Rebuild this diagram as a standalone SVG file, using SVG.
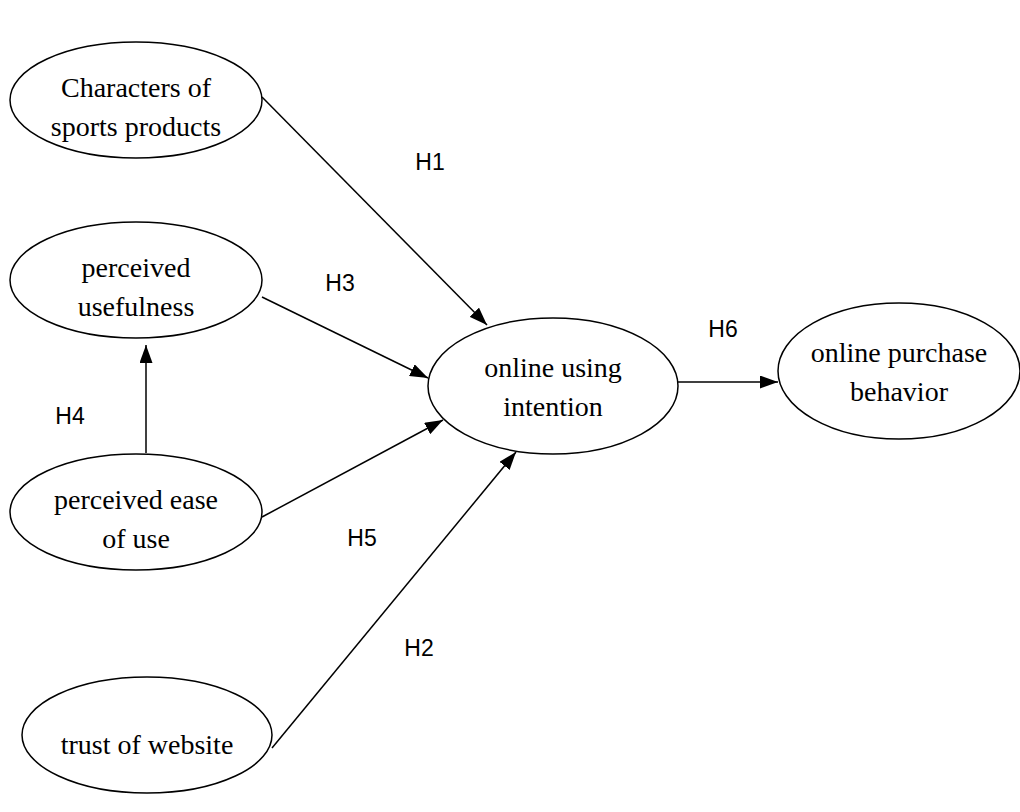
<svg xmlns="http://www.w3.org/2000/svg" width="1020" height="812" viewBox="0 0 1020 812">
  <defs>
    <marker id="arrow" viewBox="0 0 18 13" refX="18" refY="6.5" markerWidth="18" markerHeight="13" markerUnits="userSpaceOnUse" orient="auto">
      <path d="M0,0 L18,6.5 L0,13 z" fill="#000"/>
    </marker>
    <style>
      .node ellipse { fill: #fff; stroke: #000; stroke-width: 1.5; }
      .node text { font-family: "Liberation Serif", "Times New Roman", serif; font-size: 28px; fill: #000; text-anchor: middle; }
      .edge { stroke: #000; stroke-width: 1.5; fill: none; }
      .label { font-family: "Liberation Sans", Arial, sans-serif; font-size: 23px; fill: #000; text-anchor: middle; }
    </style>
  </defs>
  <rect width="1020" height="812" fill="#fff"/>

  <!-- hypothesis arrows and their labels -->
  <g id="connectors">
    <line class="edge" x1="262" y1="97" x2="487" y2="325" marker-end="url(#arrow)"/>
    <line class="edge" x1="262" y1="297" x2="428" y2="378" marker-end="url(#arrow)"/>
    <line class="edge" x1="146" y1="453" x2="146" y2="345" marker-end="url(#arrow)"/>
    <line class="edge" x1="262" y1="517" x2="443" y2="420" marker-end="url(#arrow)"/>
    <line class="edge" x1="272" y1="748" x2="516" y2="452" marker-end="url(#arrow)"/>
    <line class="edge" x1="678" y1="382" x2="778" y2="382" marker-end="url(#arrow)"/>
    <text class="label" x="430" y="170">H1</text>
    <text class="label" x="340" y="291">H3</text>
    <text class="label" x="70" y="424">H4</text>
    <text class="label" x="362" y="546">H5</text>
    <text class="label" x="419" y="656">H2</text>
    <text class="label" x="723" y="337">H6</text>
  </g>

  <g id="characters" class="node">
    <ellipse cx="136" cy="100" rx="126" ry="58"/>
    <text x="136" y="97">Characters of</text>
    <text x="136" y="136">sports products</text>
  </g>
  <g id="usefulness" class="node">
    <ellipse cx="136" cy="280" rx="126" ry="58"/>
    <text x="136" y="277">perceived</text>
    <text x="136" y="316">usefulness</text>
  </g>
  <g id="ease" class="node">
    <ellipse cx="136" cy="512" rx="126" ry="58"/>
    <text x="136" y="509">perceived ease</text>
    <text x="136" y="548">of use</text>
  </g>
  <g id="trust" class="node">
    <ellipse cx="147" cy="735" rx="125" ry="58"/>
    <text x="147" y="754">trust of website</text>
  </g>
  <g id="intention" class="node">
    <ellipse cx="553" cy="386" rx="125" ry="68"/>
    <text x="553" y="377">online using</text>
    <text x="553" y="416">intention</text>
  </g>
  <g id="purchase" class="node">
    <ellipse cx="899" cy="371" rx="121" ry="68"/>
    <text x="899" y="362">online purchase</text>
    <text x="899" y="401">behavior</text>
  </g>
</svg>
